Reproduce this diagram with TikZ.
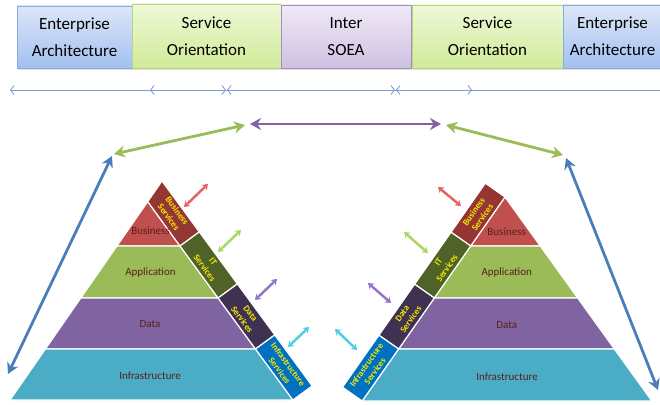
\documentclass[tikz,border=0pt]{standalone}
\usepackage{fontspec}
\setmainfont{Carlito}
\usetikzlibrary{arrows.meta,shadows}

\definecolor{eaTop}{HTML}{DCE6F8}
\definecolor{eaBot}{HTML}{A3C0EF}
\definecolor{eaLine}{HTML}{8EA9D8}
\definecolor{soTop}{HTML}{EEF8D8}
\definecolor{soBot}{HTML}{D0EB98}
\definecolor{soLine}{HTML}{B8D47E}
\definecolor{inTop}{HTML}{F1EAF7}
\definecolor{inBot}{HTML}{CEC0E1}
\definecolor{inLine}{HTML}{A18FBE}
\definecolor{busL}{HTML}{C0504D}
\definecolor{busD}{HTML}{943634}
\definecolor{appL}{HTML}{9BBB59}
\definecolor{appD}{HTML}{4F6228}
\definecolor{datL}{HTML}{8064A2}
\definecolor{datD}{HTML}{3F3151}
\definecolor{infL}{HTML}{4BACC6}
\definecolor{infD}{HTML}{0070C0}
\definecolor{lbl}{HTML}{5A1E1C}
\definecolor{svcTxt}{HTML}{F5EB00}
\definecolor{axis}{HTML}{7F9FD3}
\definecolor{arP}{HTML}{8064A2}
\definecolor{arG}{HTML}{9BBB59}
\definecolor{arB}{HTML}{4A7EBB}
\definecolor{smR}{HTML}{E46464}
\definecolor{smG}{HTML}{A9D861}
\definecolor{smP}{HTML}{9675C8}
\definecolor{smC}{HTML}{4ECFE3}

\begin{document}
\begin{tikzpicture}[x=1pt,y=-1pt,
  topbox/.style={draw, line width=0.7pt, inner sep=0pt, align=center,
    font=\fontsize{17}{27}\selectfont, text=black,
    drop shadow={opacity=0.25, shadow xshift=0.5pt, shadow yshift=-1.5pt}},
  eabox/.style={topbox, top color=eaTop, bottom color=eaBot, draw=eaLine},
  sobox/.style={topbox, top color=soTop, bottom color=soBot, draw=soLine},
  inbox/.style={topbox, top color=inTop, bottom color=inBot, draw=inLine},
  lyr/.style={draw=white, line width=1.2pt, line join=round},
  lyrtxt/.style={font=\fontsize{11}{13}\selectfont, text=lbl, inner sep=0pt},
  svctxt/.style={font=\bfseries\fontsize{9}{10.5}\selectfont, text=svcTxt, align=center, inner sep=0pt},
  axisline/.style={draw=axis, line width=0.9pt},
  barbL/.style={{Straight Barb[length=3.5pt,width=9pt]}-},
  barbLR/.style={{Straight Barb[length=3.5pt,width=9pt]}-{Straight Barb[length=3.5pt,width=9pt]}},
  bigarrow/.style={line width=2.8pt, {Stealth[length=11pt,width=12pt]}-{Stealth[length=11pt,width=12pt]}},
  smallarrow/.style={line width=2.5pt, {Stealth[length=5.5pt,width=7.5pt]}-{Stealth[length=5.5pt,width=7.5pt]}}
]
\path[use as bounding box] (0,0) rectangle (660,404);
\clip (0,0) rectangle (660,404);

% ---- header boxes ----
\node[eabox, minimum width=115pt, minimum height=62pt] (ea1) at (74.5,37) {Enterprise\\Architecture};
\node[sobox, minimum width=149pt, minimum height=64pt] (so1) at (206.5,36) {Service\\Orientation};
\node[inbox, minimum width=130pt, minimum height=63pt] (soea) at (346,36.5) {Inter\\SOEA};
\node[sobox, minimum width=151pt, minimum height=63pt] (so2) at (487.5,36.5) {Service\\Orientation};
\node[eabox, minimum width=99pt, minimum height=63pt] (ea2) at (612.5,36.5) {Enterprise\\Architecture};

% ---- scale line with spans ----
\coordinate (h0) at (10,90);
\coordinate (h1) at (150,90);
\coordinate (h2) at (226,90);
\coordinate (h3) at (227,90);
\coordinate (h4) at (395,90);
\coordinate (h5) at (396,90);
\coordinate (h6) at (472,90);
\coordinate (h7) at (664,90);
\draw[axisline, barbLR] (h0) -- (h2);
\draw[axisline, barbLR] (h1) -- (h6);
\draw[axisline, barbLR] (h3) -- (h4);
\draw[axisline, barbL] (h5) -- (h7);

% ---- left pyramid ----
\coordinate (apexL) at (162,181);
\coordinate (cutL) at (147.7,201.6);
\coordinate (L1) at (116.9,246); \coordinate (I1) at (180,246);   \coordinate (O1) at (199.3,231.9);
\coordinate (L2) at (80.8,298);  \coordinate (I2) at (218.1,298); \coordinate (O2) at (237.4,283.9);
\coordinate (L3) at (45.4,349);  \coordinate (I3) at (255.5,349); \coordinate (O3) at (274.8,334.9);
\coordinate (L4) at (10,400);    \coordinate (I4) at (292.9,400); \coordinate (O4) at (312.2,385.9);

\filldraw[lyr, fill=busL] (cutL) -- (L1) -- (I1) -- cycle;
\filldraw[lyr, fill=appL] (L1) -- (L2) -- (I2) -- (I1) -- cycle;
\filldraw[lyr, fill=datL] (L2) -- (L3) -- (I3) -- (I2) -- cycle;
\filldraw[lyr, fill=infL] (L3) -- (L4) -- (I4) -- (I3) -- cycle;
\filldraw[lyr, fill=busD] (apexL) -- (O1) -- (I1) -- (cutL) -- cycle;
\filldraw[lyr, fill=appD] (O1) -- (O2) -- (I2) -- (I1) -- cycle;
\filldraw[lyr, fill=datD] (O2) -- (O3) -- (I3) -- (I2) -- cycle;
\filldraw[lyr, fill=infD] (O3) -- (O4) -- (I4) -- (I3) -- cycle;

\node[lyrtxt] (busLtxt) at (150.5,231) {Business};
\node[lyrtxt] (appLtxt) at (150.5,272.5) {Application};
\node[lyrtxt] (datLtxt) at (150,324) {Data};
\node[lyrtxt] (infLtxt) at (150,376) {Infrastructure};

\node[svctxt, rotate=-53.7] (bsL) at (173,214) {Business\\Services};
\node[svctxt, rotate=-53.7] (itL) at (208.7,265) {IT\\Services};
\node[svctxt, rotate=-53.7] (dsL) at (246.2,316.5) {Data\\Services};
\node[svctxt, rotate=-53.7] (isL) at (283.9,367.5) {Infrastructure\\Services};

% ---- right pyramid ----
\coordinate (apexR) at (505,197);
\coordinate (J1) at (470.7,246); \coordinate (R1) at (540.3,246);
\coordinate (J2) at (434.3,298); \coordinate (R2) at (577.7,298);
\coordinate (J3) at (398.6,349); \coordinate (R3) at (614.4,349);
\coordinate (J4) at (362.2,401); \coordinate (R4) at (651.9,401);
\coordinate (Q0) at (485.3,183.2);
\coordinate (Q1) at (451,232.2);
\coordinate (Q2) at (414.6,284.2);
\coordinate (Q3) at (378.9,335.2);
\coordinate (Q4) at (342.5,387.2);

\filldraw[lyr, fill=busL] (apexR) -- (J1) -- (R1) -- cycle;
\filldraw[lyr, fill=appL] (J1) -- (J2) -- (R2) -- (R1) -- cycle;
\filldraw[lyr, fill=datL] (J2) -- (J3) -- (R3) -- (R2) -- cycle;
\filldraw[lyr, fill=infL] (J3) -- (J4) -- (R4) -- (R3) -- cycle;
\filldraw[lyr, fill=busD] (apexR) -- (Q0) -- (Q1) -- (J1) -- cycle;
\filldraw[lyr, fill=appD] (J1) -- (Q1) -- (Q2) -- (J2) -- cycle;
\filldraw[lyr, fill=datD] (J2) -- (Q2) -- (Q3) -- (J3) -- cycle;
\filldraw[lyr, fill=infD] (J3) -- (Q3) -- (Q4) -- (J4) -- cycle;

\node[lyrtxt] (busRtxt) at (506.7,231.7) {Business};
\node[lyrtxt] (appRtxt) at (506.7,273) {Application};
\node[lyrtxt] (datRtxt) at (506.7,325) {Data};
\node[lyrtxt] (infRtxt) at (507,376.7) {Infrastructure};

\node[svctxt, rotate=55] (bsR) at (478,214.6) {Business\\Services};
\node[svctxt, rotate=55] (itR) at (442.7,265.1) {IT\\Services};
\node[svctxt, rotate=55] (dsR) at (406.6,316.6) {Data\\Services};
\node[svctxt, rotate=55] (isR) at (370.6,368.1) {Infrastructure\\Services};

% ---- small exchange arrows beside the service bands ----
\coordinate (sr1a) at (184,207); \coordinate (sr1b) at (208,184);
\coordinate (sg1a) at (218,252); \coordinate (sg1b) at (241,230);
\coordinate (sp1a) at (255,300); \coordinate (sp1b) at (277,279);
\coordinate (sc1a) at (288,347); \coordinate (sc1b) at (309,327);
\coordinate (sr2a) at (438,187); \coordinate (sr2b) at (461,206);
\coordinate (sg2a) at (404,232); \coordinate (sg2b) at (428,253);
\coordinate (sp2a) at (368,283); \coordinate (sp2b) at (391,303);
\coordinate (sc2a) at (335,329); \coordinate (sc2b) at (357,350);
\draw[smallarrow, smR] (sr1a) -- (sr1b);
\draw[smallarrow, smG] (sg1a) -- (sg1b);
\draw[smallarrow, smP] (sp1a) -- (sp1b);
\draw[smallarrow, smC] (sc1a) -- (sc1b);
\draw[smallarrow, smR] (sr2a) -- (sr2b);
\draw[smallarrow, smG] (sg2a) -- (sg2b);
\draw[smallarrow, smP] (sp2a) -- (sp2b);
\draw[smallarrow, smC] (sc2a) -- (sc2b);

% ---- large frame arrows ----
\coordinate (pA) at (250,124);  \coordinate (pB) at (441,124);
\coordinate (gA) at (245,125);  \coordinate (gB) at (114,154);
\coordinate (bA) at (112,156);  \coordinate (bB) at (8,374);
\coordinate (gC) at (446,125);  \coordinate (gD) at (563,155);
\coordinate (bC) at (566,158);  \coordinate (bD) at (658,390);
\draw[bigarrow, arP] (pA) -- (pB);
\draw[bigarrow, arG] (gA) -- (gB);
\draw[bigarrow, arB] (bA) -- (bB);
\draw[bigarrow, arG] (gC) -- (gD);
\draw[bigarrow, arB] (bC) -- (bD);
\end{tikzpicture}
\end{document}
